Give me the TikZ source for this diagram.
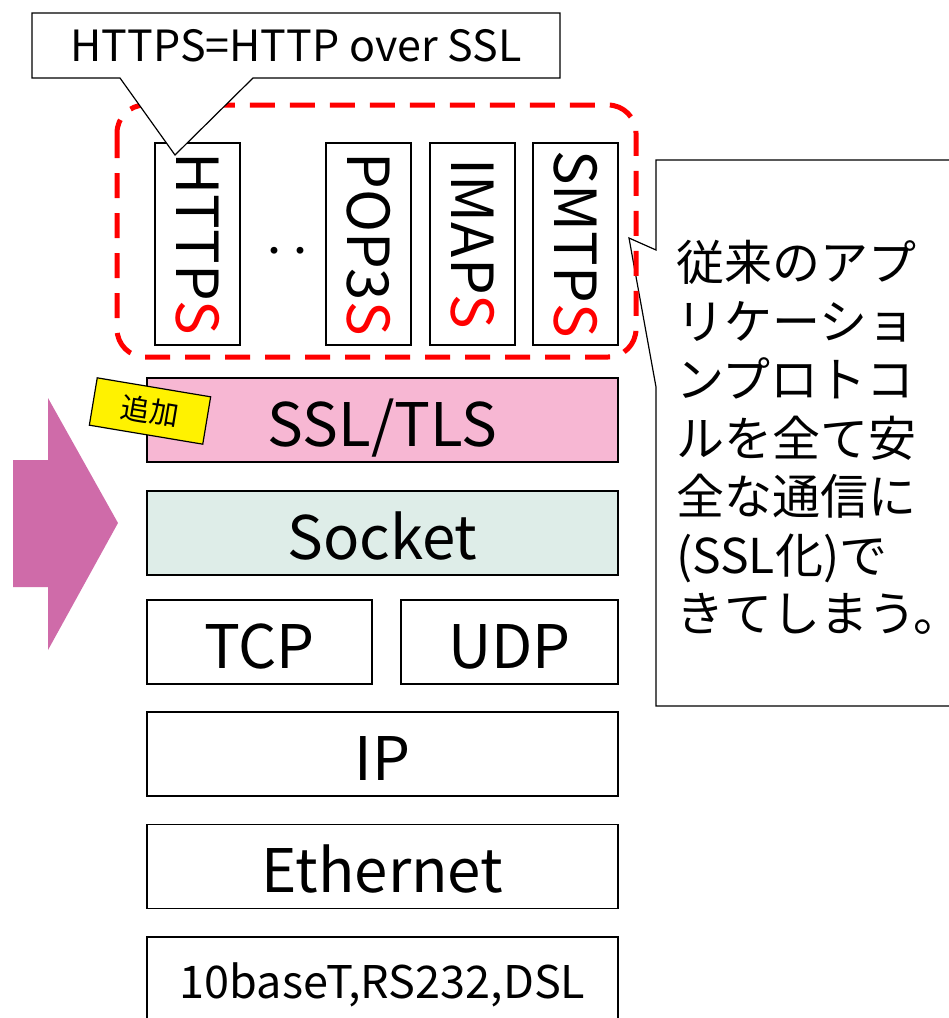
\documentclass[tikz,border=0pt]{standalone}
\usepackage{fontspec}
\setmainfont{Noto Sans CJK JP}
\usetikzlibrary{arrows}
\definecolor{sslpink}{RGB}{247,183,211}
\definecolor{sockgreen}{RGB}{222,237,232}
\definecolor{arrowpink}{RGB}{207,107,169}
\tikzstyle{layer}=[draw, line width=1.6pt, minimum width=471pt, minimum height=84pt, inner sep=0pt, text height=52pt, text depth=0pt, font=\fontsize{60}{64}\selectfont]
\newcommand{\layer}{\node[layer]}
\tikzstyle{app}=[draw, line width=1.4pt, rotate=-90, minimum width=202pt, minimum height=85pt, inner sep=0pt, font=\fontsize{58}{62}\selectfont]
\newcommand{\app}{\node[app]}
\tikzstyle{note}=[line width=1.2pt]

\begin{document}
\begin{tikzpicture}[x=1pt, y=-1pt]
\useasboundingbox (0,0) rectangle (949,1018);
\coordinate (tipB) at (629,238);
\draw[note] (656,250) -- (656,160) -- (960,160) -- (960,706) -- (656,706) -- (656,387) -- (tipB) -- cycle;
\node[anchor=north west, align=left, inner sep=0pt, font=\fontsize{48}{58.5}\selectfont] (merit) at (676,240)
    {従来のアプ\\リケーショ\\ンプロトコ\\ルを全て安\\全な通信に\\(SSL化)で\\きてしまう。};
\fill[arrowpink] (13,460) -- (48,460) -- (48,398) -- (118,523) -- (48,650) -- (48,587) -- (13,587) -- cycle;
\layer[fill=sslpink] (ssl) at (382.5,420) {SSL/TLS};
\layer[fill=sockgreen] (sock) at (382.5,533) {Socket};
\layer[minimum width=225pt] (tcp) at (259.5,642) {TCP};
\layer[minimum width=217pt] (udp) at (509.5,642) {UDP};
\layer (ip) at (382.5,754) {IP};
\layer (eth) at (382.5,866.5) {Ethernet};
\layer[font=\fontsize{45}{48}\selectfont, text height=39pt] (phy) at (382.5,979) {10baseT,RS232,DSL};
\app (https) at (197.5,244) {HTTP\textcolor{red}{S}};
\app (pop3s) at (368.5,244) {POP3\textcolor{red}{S}};
\app (imaps) at (472.5,244) {IMAP\textcolor{red}{S}};
\app (smtps) at (575.5,244) {SMTP\textcolor{red}{S}};
\node[font=\fontsize{52}{56}\selectfont] (dots) at (287,259) {‥};
\draw[red, line width=5pt, dash pattern=on 25pt off 15pt, rounded corners=28pt] (117,105) rectangle (636,357);
\coordinate (tipA) at (175,155);
\filldraw[note, fill=white] (32,13) -- (560,13) -- (560,78) -- (253,78) -- (tipA) -- (120,78) -- (32,78) -- cycle;
\node[font=\fontsize{43}{46}\selectfont] (over) at (296,46) {HTTPS=HTTP over SSL};
\node[draw, fill=yellow, line width=1.2pt, rotate=-9.5, minimum width=115pt, minimum height=48pt, font=\fontsize{29}{31}\selectfont] (add) at (150,411) {追加};
\end{tikzpicture}
\end{document}
